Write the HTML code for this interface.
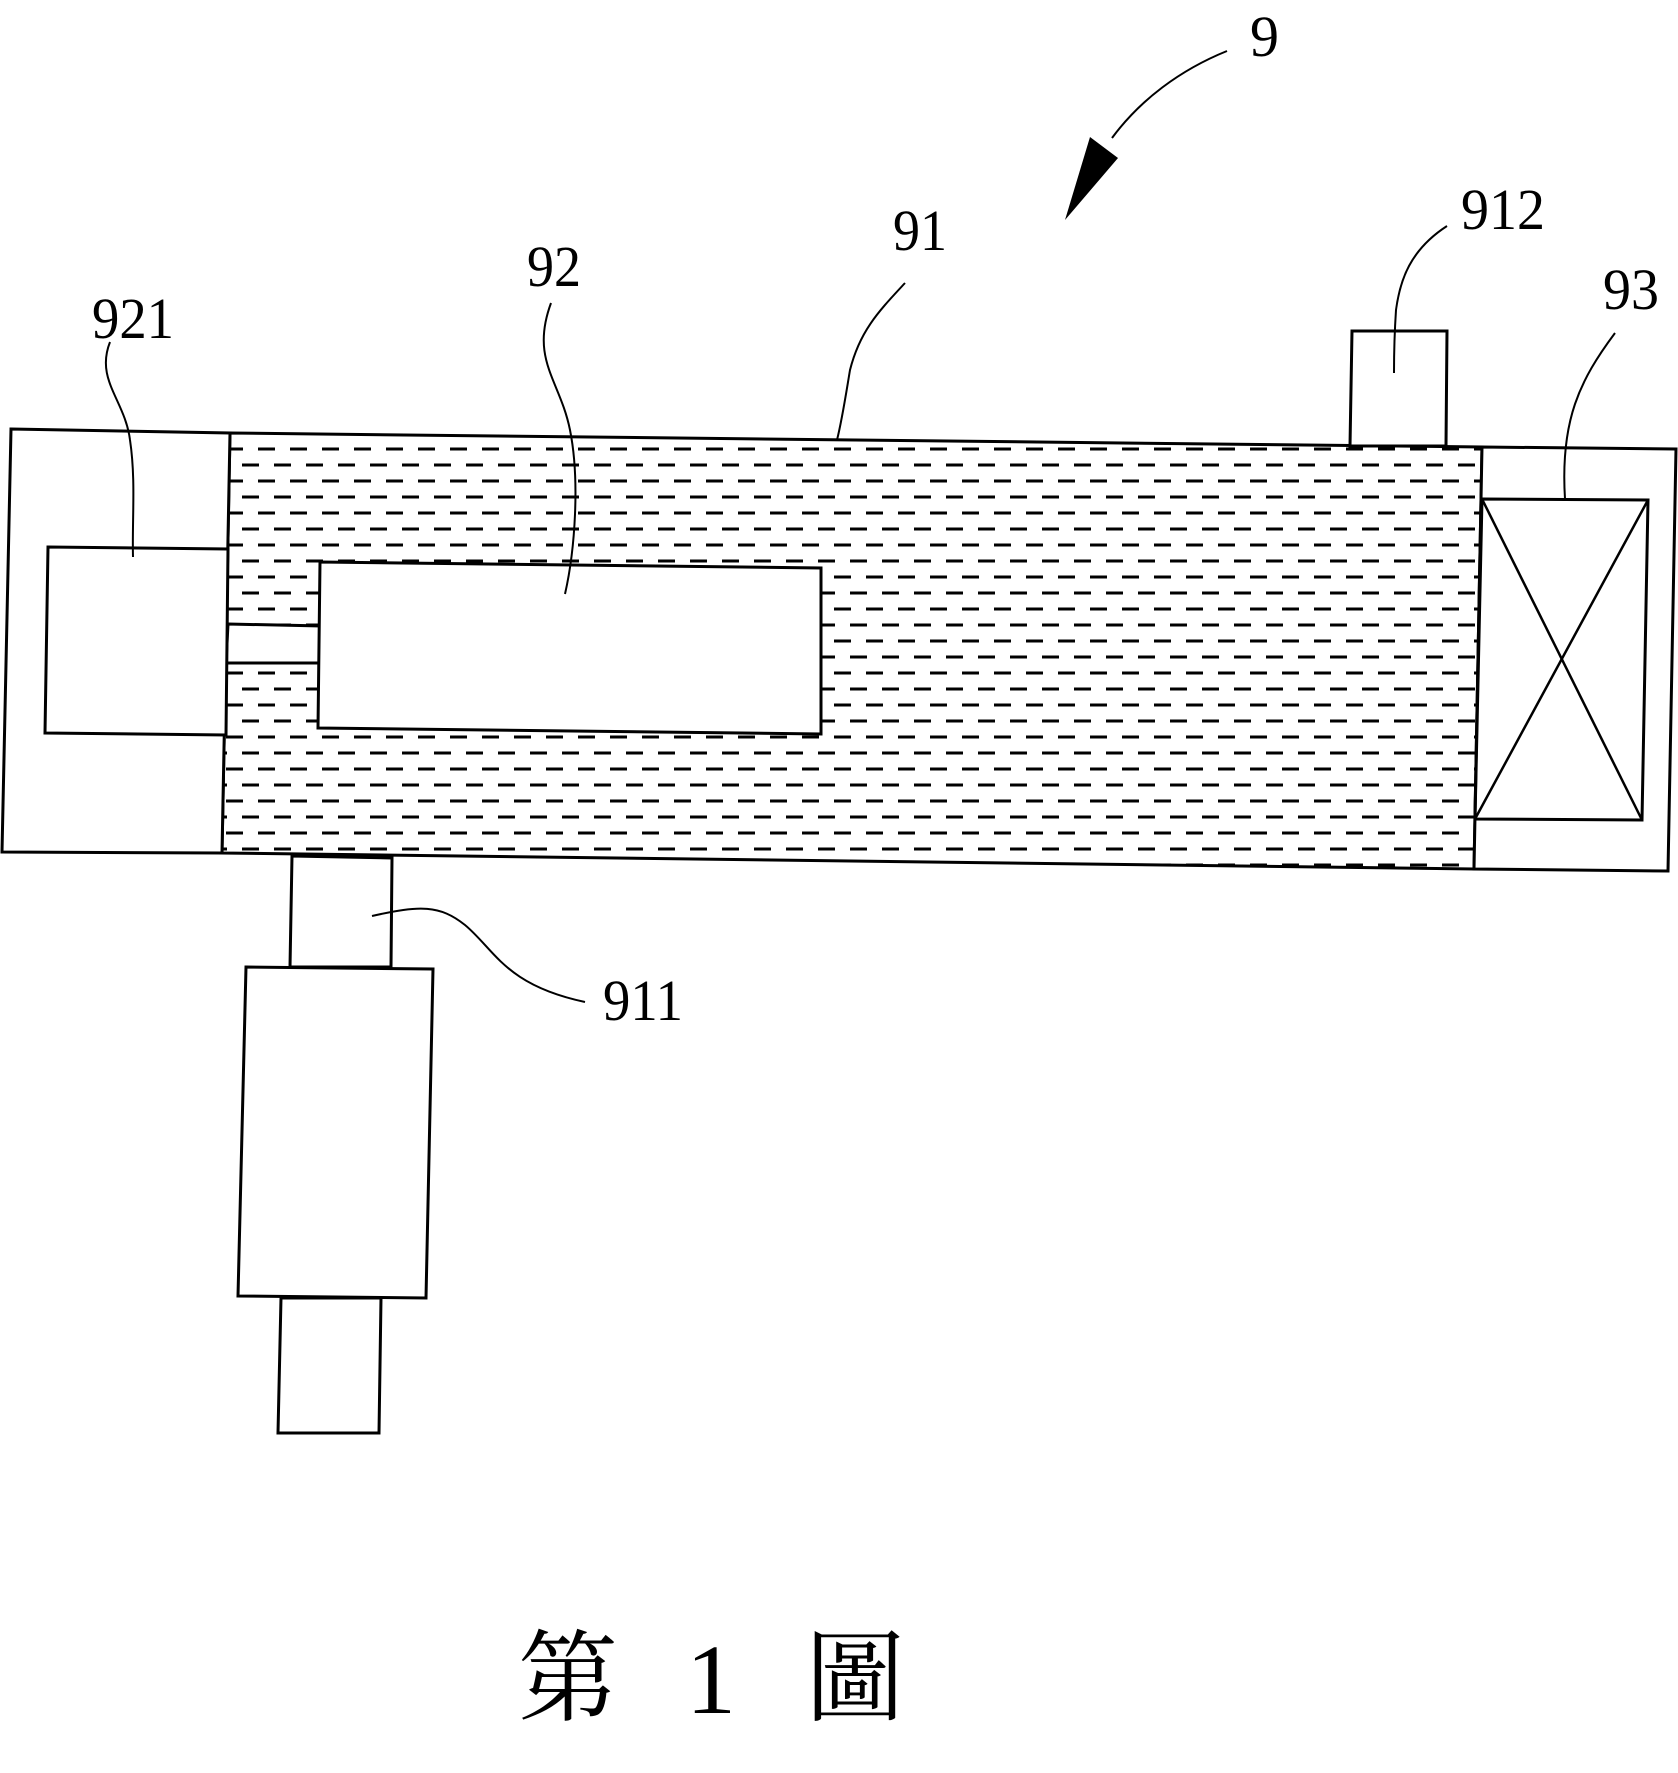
<!DOCTYPE html>
<html><head><meta charset="utf-8"><style>
html,body{margin:0;padding:0;background:#fff;}
svg{display:block;}
text{font-family:"Liberation Serif","Noto Serif CJK SC",serif;fill:#000;}
</style></head><body>
<svg width="1678" height="1773" viewBox="0 0 1678 1773" xmlns="http://www.w3.org/2000/svg">
<defs>
<pattern id="dash" patternUnits="userSpaceOnUse" width="32" height="32" x="0" y="445">
<line x1="2" y1="4" x2="19" y2="4" stroke="#000" stroke-width="3"/>
<line x1="18" y1="20" x2="35" y2="20" stroke="#000" stroke-width="3"/>
<line x1="-14" y1="20" x2="3" y2="20" stroke="#000" stroke-width="3"/>
</pattern>
</defs>
<g fill="none" stroke="#000" stroke-width="3">
<!-- body with dash fill -->
<polygon points="230,433 1482,447 1474,869 222,853" fill="url(#dash)"/>
<!-- tube & 92 white -->
<polygon points="228,624 322,626 322,663 226,663" fill="#fff"/>
<polygon points="320,562 821,568 821,734 318,728" fill="#fff"/>
<!-- left panel -->
<polygon points="11,429 230,433 222,853 2,852" fill="#fff"/>
<polygon points="48,547 228,549 226,735 45,733" fill="#fff"/>
<!-- right panel -->
<polygon points="1482,447 1676,449 1668,871 1474,869" fill="#fff"/>
<polygon points="1482,499 1648,500 1642,820 1475,819"/>
<line x1="1482" y1="499" x2="1642" y2="820" stroke-width="2.5"/>
<line x1="1648" y1="500" x2="1475" y2="819" stroke-width="2.5"/>
<!-- 912 -->
<polygon points="1352,331 1447,331 1446,446 1350,446" fill="#fff"/>
<!-- 911 assembly -->
<polygon points="292,856 392,858 391,967 290,967" fill="#fff"/>
<polygon points="246,967 433,969 426,1298 238,1296" fill="#fff"/>
<polygon points="281,1298 381,1298 379,1433 278,1433" fill="#fff"/>
</g>
<!-- leaders -->
<g fill="none" stroke="#000" stroke-width="2">
<path d="M110,342 C95,380 125,400 130,440 C136,480 132,520 133,557"/>
<path d="M551,303 C530,360 560,380 570,430 C580,480 575,550 565,594"/>
<path d="M905,283 C880,310 860,330 850,370 C845,400 842,420 837,440"/>
<path d="M1447,226 C1410,250 1400,280 1396,310 C1394,340 1394,360 1394,373"/>
<path d="M1615,333 C1580,380 1560,420 1565,499"/>
<path d="M372,916 C420,905 440,905 465,925 C495,950 505,985 585,1002"/>
<path d="M1227,51 C1180,70 1140,100 1112,138"/>
</g>
<polygon points="1065,220 1090,137 1118,158" fill="#000"/>
<!-- labels -->
<g font-size="58">
<text x="1250" y="56" transform="scale(1,1)">9</text>
<text x="893" y="250" textLength="54" lengthAdjust="spacingAndGlyphs">91</text>
<text x="527" y="286" textLength="54" lengthAdjust="spacingAndGlyphs">92</text>
<text x="92" y="338" textLength="82" lengthAdjust="spacingAndGlyphs">921</text>
<text x="1461" y="229" textLength="84" lengthAdjust="spacingAndGlyphs">912</text>
<text x="1603" y="309" textLength="56" lengthAdjust="spacingAndGlyphs">93</text>
<text x="603" y="1020" textLength="80" lengthAdjust="spacingAndGlyphs">911</text>
</g>
<g font-size="100">
<text x="518" y="1713">第</text>
<text x="686" y="1713">1</text>
<text x="805" y="1713">圖</text>
</g>
</svg>
</body></html>
